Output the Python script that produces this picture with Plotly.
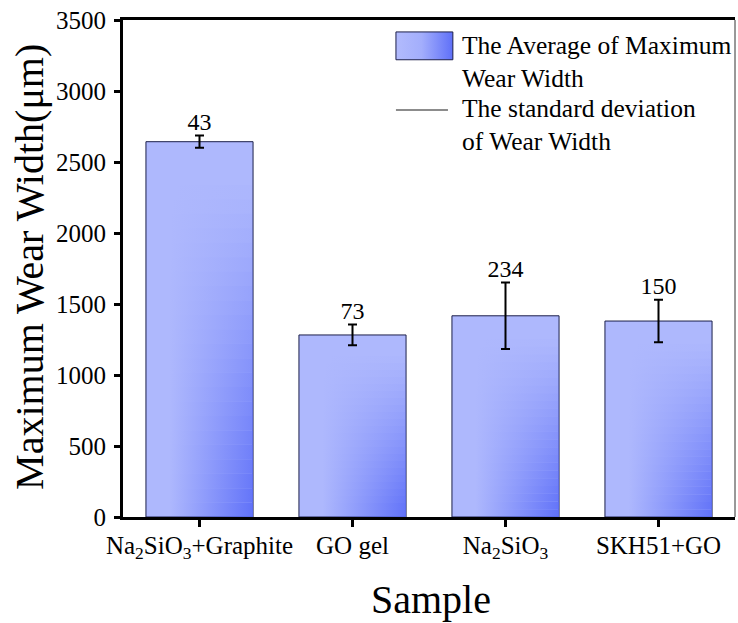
import plotly.graph_objects as go

categories = ["Na<sub>2</sub>SiO<sub>3</sub>+Graphite", "GO gel", "Na<sub>2</sub>SiO<sub>3</sub>", "SKH51+GO"]
avg_width = [2643, 1282, 1417, 1380]
std_width = [43, 73, 234, 150]
y_ticks = [0, 500, 1000, 1500, 2000, 2500, 3000, 3500]

FONT = "'Liberation Serif', 'Times New Roman', Times, serif"
BAR_W = 0.7
LIGHT = "#aeb8fd"
DARK = (88, 106, 248)
N_SLICES = 26

xpos = list(range(len(categories)))


def rgba(c, a):
    return f"rgba({c[0]},{c[1]},{c[2]},{a:.3f})"


fig = go.Figure()
# base bars
fig.add_trace(go.Bar(
    x=xpos, y=avg_width, width=BAR_W,
    marker=dict(color=LIGHT, line=dict(color="#1c1f4a", width=1)),
    showlegend=False, hoverinfo="skip",
))
# gradient shading on each bar (light top-left -> dark bottom-right)
for xi, h in zip(xpos, avg_width):
    x0, x1 = xi - BAR_W / 2, xi + BAR_W / 2
    for k in range(N_SLICES):
        ytop = h * (1 - k / N_SLICES)
        ybot = h * (1 - (k + 1) / N_SLICES)
        v = (k + 0.5) / N_SLICES
        a = min(1.0, max(0.0, (v - 0.1) / 0.9)) ** 1.1 * 0.92
        fig.add_trace(go.Scatter(
            x=[x0, x1, x1, x0, x0], y=[ybot, ybot, ytop, ytop, ybot],
            mode="none", fill="toself",
            fillgradient=dict(type="horizontal", colorscale=[
                [0, rgba(DARK, 0)], [0.22, rgba(DARK, 0)], [1, rgba(DARK, a)]]),
            showlegend=False, hoverinfo="skip",
        ))
# error bars
fig.add_trace(go.Scatter(
    x=xpos, y=avg_width, mode="markers", marker=dict(size=0.1, color="rgba(0,0,0,0)"),
    error_y=dict(type="data", array=std_width, visible=True, color="black", thickness=2, width=4.5),
    showlegend=False, hoverinfo="skip",
))
# value labels
fig.add_trace(go.Scatter(
    x=xpos, y=[a + s for a, s in zip(avg_width, std_width)],
    mode="text", text=[str(s) for s in std_width], textposition="top center",
    textfont=dict(family=FONT, size=24, color="black"),
    showlegend=False, hoverinfo="skip",
))

# legend swatch with gradient (on a hidden overlay axis spanning the plot area, 0..1)
sw_x0, sw_x1, sw_y0, sw_y1 = 0.446, 0.539, 0.920, 0.976
fig.add_trace(go.Scatter(
    x=[sw_x0, sw_x1, sw_x1, sw_x0, sw_x0], y=[sw_y0, sw_y0, sw_y1, sw_y1, sw_y0],
    xaxis="x2", yaxis="y2", mode="lines", fill="toself",
    line=dict(color="#1c1f4a", width=1),
    fillgradient=dict(type="horizontal", colorscale=[
        [0, "#b2bbfd"], [0.45, "#a3aefc"], [1, "#5f70f8"]]),
    showlegend=False, hoverinfo="skip",
))
fig.add_shape(type="line", xref="paper", yref="paper", x0=0.446, x1=0.531, y0=0.819, y1=0.819,
              line=dict(color="#666666", width=1.5))
fig.add_annotation(xref="paper", yref="paper", x=0.551, y=0.915, xanchor="left", yanchor="middle",
                   text="The Average of Maximum<br>Wear Width", showarrow=False, align="left",
                   font=dict(family=FONT, size=25.5, color="black"))
fig.add_annotation(xref="paper", yref="paper", x=0.551, y=0.789, xanchor="left", yanchor="middle",
                   text="The standard deviation<br>of Wear Width", showarrow=False, align="left",
                   font=dict(family=FONT, size=25.5, color="black"))
# axis titles
fig.add_annotation(xref="paper", yref="paper", x=-0.153, y=0.504, xanchor="center", yanchor="middle",
                   text="Maximum Wear Width(μm)", textangle=-90, showarrow=False,
                   font=dict(family=FONT, size=40, color="black"))
fig.add_annotation(xref="paper", yref="paper", x=0.503, y=-0.167, xanchor="center", yanchor="middle",
                   text="Sample", showarrow=False,
                   font=dict(family=FONT, size=40, color="black"))
# right border
fig.add_shape(type="line", xref="paper", yref="paper", x0=1, x1=1, y0=0, y1=1,
              line=dict(color="#333333", width=1))

fig.update_layout(
    width=738, height=623,
    margin=dict(l=123, r=3, t=20, b=106),
    plot_bgcolor="white", paper_bgcolor="white",
    font=dict(family=FONT, color="black"),
    showlegend=False,
    xaxis2=dict(overlaying="x", range=[0, 1], visible=False, fixedrange=True),
    yaxis2=dict(overlaying="y", range=[0, 1], visible=False, fixedrange=True),
)
fig.update_xaxes(
    selector=dict(anchor="y"),
    range=[-0.5, 3.5], tickmode="array", tickvals=xpos, ticktext=categories,
    showline=True, linecolor="black", linewidth=3, mirror=True,
    ticks="outside", ticklen=7, tickwidth=3, tickcolor="black", ticklabelstandoff=-3,
    tickfont=dict(family=FONT, size=25), showgrid=False, zeroline=False, automargin=False,
)
fig.update_layout(yaxis=dict(
    range=[0, 3500], tickmode="array", tickvals=y_ticks,
    showline=True, linecolor="black", linewidth=3,
    ticks="outside", ticklen=6, tickwidth=3, tickcolor="black", ticklabelstandoff=3,
    tickfont=dict(family=FONT, size=25), showgrid=False, zeroline=False, automargin=False,
))
fig.update_layout(xaxis=dict(
    range=[-0.5, 3.5], tickmode="array", tickvals=xpos, ticktext=categories,
    showline=True, linecolor="black", linewidth=3, mirror=True,
    ticks="outside", ticklen=7, tickwidth=3, tickcolor="black", ticklabelstandoff=-3,
    tickfont=dict(family=FONT, size=25), showgrid=False, zeroline=False, automargin=False,
))
fig.write_html("out.html", config={"displayModeBar": False},
               post_script="document.body.style.margin='0px';")
